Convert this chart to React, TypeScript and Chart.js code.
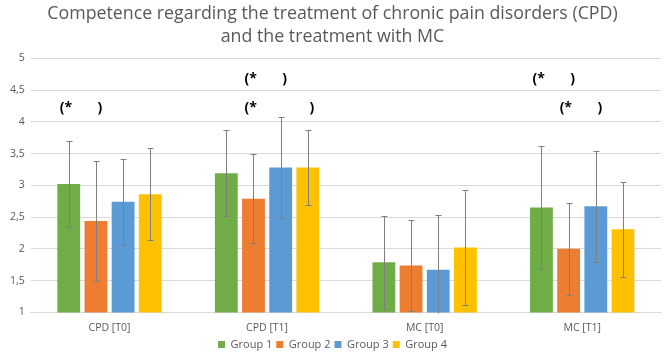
import React, { useEffect, useRef } from "react";
import { Chart, registerables } from "chart.js";

Chart.register(...registerables);

const categories = ["CPD [T0]", "CPD [T1]", "MC [T0]", "MC [T1]"];
const seriesNames = ["Group 1", "Group 2", "Group 3", "Group 4"];
const seriesColors = ["#70ad47", "#ed7d31", "#5b9bd5", "#ffc000"];

const group1 = [3.02, 3.19, 1.79, 2.65];
const group2 = [2.44, 2.79, 1.74, 2.0];
const group3 = [2.74, 3.28, 1.67, 2.67];
const group4 = [2.86, 3.28, 2.02, 2.31];

const group1Err = [0.68, 0.68, 0.73, 0.97];
const group2Err = [0.95, 0.7, 0.72, 0.72];
const group3Err = [0.68, 0.8, 0.87, 0.87];
const group4Err = [0.72, 0.59, 0.91, 0.75];

const yTickLabels = ["1", "1,5", "2", "2,5", "3", "3,5", "4", "4,5", "5"];

// significance brackets: category index, from group, to group, y value
const sigCategory = [0, 1, 1, 3, 3];
const sigFrom = [0, 1, 1, 0, 1];
const sigTo = [1, 2, 3, 1, 2];
const sigY = [4.22, 4.67, 4.22, 4.67, 4.22];

const titleLines = [
  "Competence regarding the treatment of chronic pain disorders (CPD)",
  "and the treatment with MC",
];

const FONT = "'Open Sans', 'Liberation Sans', sans-serif";

const errorBarPlugin = {
  id: "errorBars",
  afterDatasetsDraw(chart: any) {
    const ctx = chart.ctx;
    const yScale = chart.scales.y;
    const area = chart.chartArea;
    const errs = [group1Err, group2Err, group3Err, group4Err];
    ctx.save();
    ctx.beginPath();
    ctx.rect(area.left, area.top, area.right - area.left, area.bottom - area.top + 1);
    ctx.clip();
    ctx.strokeStyle = "#7f7f7f";
    ctx.lineWidth = 1;
    chart.data.datasets.forEach((ds: any, di: number) => {
      const meta = chart.getDatasetMeta(di);
      meta.data.forEach((bar: any, i: number) => {
        const v = ds.data[i];
        const e = errs[di][i];
        const x = Math.round(bar.x) + 0.5;
        const yt = Math.round(yScale.getPixelForValue(v + e)) + 0.5;
        const yb = Math.round(yScale.getPixelForValue(v - e)) + 0.5;
        ctx.beginPath();
        ctx.moveTo(x, yt);
        ctx.lineTo(x, yb);
        ctx.moveTo(x - 3, yt);
        ctx.lineTo(x + 3, yt);
        ctx.moveTo(x - 3, yb);
        ctx.lineTo(x + 3, yb);
        ctx.stroke();
      });
    });
    ctx.restore();

    // significance annotations
    ctx.save();
    ctx.fillStyle = "#000000";
    ctx.font = "bold 14px " + FONT;
    ctx.textBaseline = "middle";
    for (let k = 0; k < sigCategory.length; k++) {
      const c = sigCategory[k];
      const b1 = chart.getDatasetMeta(sigFrom[k]).data[c];
      const b2 = chart.getDatasetMeta(sigTo[k]).data[c];
      const y = yScale.getPixelForValue(sigY[k]);
      ctx.textAlign = "left";
      ctx.fillText("(*", b1.x - 9, y);
      ctx.textAlign = "center";
      ctx.fillText(")", b2.x + 4, y);
    }
    ctx.restore();
  },
};

export default function App() {
  const ref = useRef<HTMLCanvasElement>(null);
  useEffect(() => {
    if (!ref.current) return;
    const groups = [group1, group2, group3, group4];
    const chart = new Chart(ref.current, {
      type: "bar",
      data: {
        labels: categories,
        datasets: groups.map((g, i) => ({
          label: seriesNames[i],
          data: g,
          backgroundColor: seriesColors[i],
          borderWidth: 0,
          barPercentage: 0.84,
          categoryPercentage: 0.69,
        })),
      },
      options: {
        animation: false,
        responsive: false,
        maintainAspectRatio: false,
        layout: { padding: { left: 4, right: 8, top: 2, bottom: 0 } },
        plugins: {
          title: {
            display: true,
            text: titleLines,
            color: "#595959",
            font: { family: FONT, size: 17.8, weight: "normal", lineHeight: 1.3 },
            padding: { top: 0, bottom: 10 },
          },
          legend: {
            position: "bottom",
            labels: {
              color: "#595959",
              font: { family: FONT, size: 11 },
              boxWidth: 7,
              boxHeight: 7,
              padding: 4,
            },
          },
          tooltip: { enabled: false },
        },
        scales: {
          x: {
            grid: { display: false },
            border: { color: "#d9d9d9" },
            ticks: { color: "#595959", font: { family: FONT, size: 10.5 }, padding: 1 },
          },
          y: {
            min: 1,
            max: 5,
            ticks: {
              stepSize: 0.5,
              color: "#595959",
              font: { family: FONT, size: 10.5 },
              padding: 6,
              callback: (_v: any, idx: number) => yTickLabels[idx],
            },
            grid: { color: "#d9d9d9", drawTicks: false },
            border: { display: false },
          },
        },
      },
      plugins: [errorBarPlugin],
    });
    return () => chart.destroy();
  }, []);
  return (
    <div style={{ position: "fixed", left: 0, top: 0, width: 669, height: 360, background: "#fff" }}>
      <canvas ref={ref} width={669} height={360} style={{ width: 669, height: 360 }} />
    </div>
  );
}
